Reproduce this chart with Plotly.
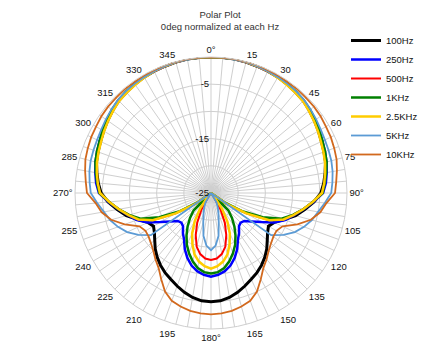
import plotly.graph_objects as go

# angles 0..180 step 5 (values mirrored for 185..355)
half_angles = list(range(0, 185, 5))

r_100hz = [0, 0, 0, -0.1, -0.2, -0.3, -0.4, -0.6, -0.8, -1.0, -1.4, -1.8, -2.2, -2.6, -2.9, -3.2, -3.7, -4.2, -4.8,
           -6.0, -7.5, -8.9, -10.7, -12.2, -12.8, -12.3, -11.5, -10.5, -9.6, -8.8, -8.1, -7.5, -6.8, -6.1, -5.5, -5.1, -5.0]
r_250hz = [0, 0, 0, -0.1, -0.2, -0.3, -0.4, -0.6, -0.8, -1.0, -1.3, -1.7, -2.0, -2.4, -2.7, -3.0, -3.4, -3.8, -4.4,
           -6.1, -7.7, -9.2, -10.5, -12.2, -14.3, -15.9, -17.0, -17.3, -17.0, -16.0, -15.1, -13.6, -12.3, -11.2, -10.4, -9.9, -9.6]
r_500hz = [0, 0, 0, -0.1, -0.2, -0.3, -0.4, -0.6, -0.8, -1.0, -1.4, -1.8, -2.2, -2.6, -2.9, -3.2, -3.6, -4.0, -4.5,
           -6.2, -7.8, -9.4, -10.8, -13.3, -17.5, -21.5, -25, -25, -25, -24.0, -21.5, -19.0, -16.8, -14.8, -13.6, -12.9, -12.7]
r_1khz = [0, 0, 0, 0, -0.1, -0.2, -0.3, -0.5, -0.7, -0.9, -1.2, -1.6, -2.0, -2.4, -2.7, -3.0, -3.5, -4.0, -4.5,
          -6.2, -7.8, -9.4, -11.2, -14.5, -18.2, -22.0, -25, -20.5, -19.0, -17.5, -16.0, -14.5, -13.2, -12.0, -11.0, -10.4, -10.2]
r_25khz = [0, 0, 0, -0.1, -0.2, -0.3, -0.5, -0.7, -0.9, -1.1, -1.5, -1.9, -2.3, -2.7, -3.0, -3.3, -3.7, -4.1, -4.6,
           -6.2, -7.8, -9.3, -10.8, -13.2, -17.5, -21.5, -25, -25, -24.0, -21.5, -19.0, -16.8, -15.0, -13.3, -12.2, -11.5, -11.1]
r_5khz = [0, 0, -0.1, -0.1, -0.2, -0.3, -0.4, -0.5, -0.6, -0.8, -1.1, -1.4, -1.7, -1.9, -2.0, -2.1, -2.3, -2.6, -2.9,
          -4.0, -5.0, -5.8, -6.8, -8.0, -9.6, -11.5, -25, -25, -25, -25, -23.0, -22.0, -21.0, -19.5, -17.0, -15.3, -14.5]
r_10khz = [0, 0, 0, 0, 0, -0.1, -0.1, -0.2, -0.2, -0.3, -0.3, -0.4, -0.6, -0.7, -0.9, -1.1, -1.5, -1.9, -2.2,
           -3.7, -4.6, -6.0, -8.1, -10.5, -11.1, -11.0, -10.6, -10.0, -9.1, -8.2, -6.7, -5.0, -3.9, -3.4, -3.0, -2.8, -2.7]

series_names = ["100Hz", "250Hz", "500Hz", "1KHz", "2.5KHz", "5KHz", "10KHz"]
series_values = [r_100hz, r_250hz, r_500hz, r_1khz, r_25khz, r_5khz, r_10khz]
series_colors = ["#000000", "#0000FF", "#FF0000", "#008000", "#FFCC00", "#5B9BD5", "#D2691E"]
series_widths = [3, 2.5, 2, 2.5, 2.5, 1.8, 1.8]

grid_angles = list(range(0, 360, 5))
angle_labels = {0: "0°", 90: "90°", 180: "180°", 270: "270°"}
angle_ticktext = [angle_labels.get(a, str(a)) if a % 15 == 0 else "" for a in grid_angles]

radial_tickvals = [-25, -20, -15, -10, -5, 0]
radial_ticktext = ["-25", "", "-15", "", "-5", ""]


def full_circle(half):
    theta = half_angles + [360 - a for a in reversed(half_angles[1:-1])] + [360]
    r = half + list(reversed(half[1:-1])) + [half[0]]
    return theta, r


fig = go.Figure()
for name, vals, col, w in zip(series_names, series_values, series_colors, series_widths):
    th, rr = full_circle(vals)
    fig.add_trace(go.Scatterpolar(r=rr, theta=th, mode="lines", name=name,
                                  line=dict(color=col, width=w)))

fig.update_layout(
    width=426, height=360,
    margin=dict(l=0, r=0, t=0, b=0),
    paper_bgcolor="white",
    font=dict(family="Liberation Sans, Arial, sans-serif", size=10, color="#222"),
    title=dict(text="Polar Plot<br>0deg normalized at each Hz", x=212 / 426, xanchor="center",
               y=1 - 10 / 360, yanchor="top", yref="container", font=dict(size=9.5, color="#333")),
    polar=dict(
        domain=dict(x=[67 / 426, 339 / 426], y=[39 / 360, 311 / 360]),
        bgcolor="white",
        angularaxis=dict(direction="clockwise", rotation=90, tickvals=grid_angles,
                         ticktext=angle_ticktext, ticks="", showline=True,
                         linecolor="#cfcfcf", gridcolor="#cfcfcf", gridwidth=1,
                         tickfont=dict(size=9.5, color="#111")),
        radialaxis=dict(range=[-25, 0], tickvals=radial_tickvals, ticktext=radial_ticktext,
                        angle=90, tickangle=90, side="counterclockwise", showline=False, ticks="",
                        gridcolor="#cfcfcf", gridwidth=1, tickfont=dict(size=9.5, color="#111")),
    ),
    legend=dict(x=338 / 426, xanchor="left", y=1 - 18 / 360, yanchor="top",
                font=dict(size=9.5, color="#111"), bgcolor="rgba(0,0,0,0)",
                itemwidth=30),
)

fig.write_html("out.html")
